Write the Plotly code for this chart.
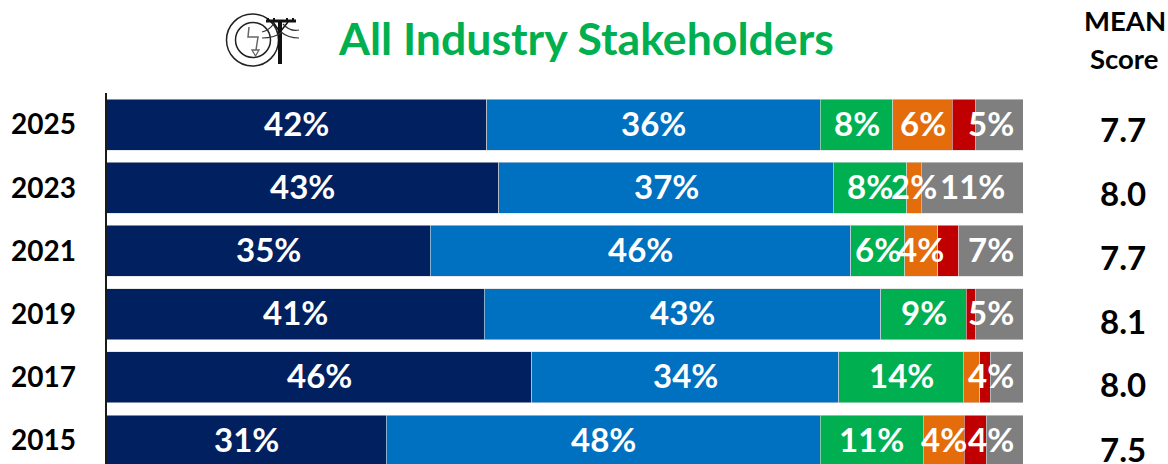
import plotly.graph_objects as go

years = ["2025", "2023", "2021", "2019", "2017", "2015"]
navy = [41.5, 42.8, 35.3, 41.2, 46.4, 30.5]
blue = [36.4, 36.5, 45.9, 43.3, 33.5, 47.4]
green = [7.9, 8.0, 5.9, 9.3, 13.6, 11.2]
orange = [6.5, 1.6, 3.6, 0, 1.8, 4.5]
red = [2.5, 0, 2.3, 1.0, 1.1, 2.4]
gray = [5.2, 11.1, 7.1, 5.2, 3.6, 4.0]
navy_labels = ["42%", "43%", "35%", "41%", "46%", "31%"]
blue_labels = ["36%", "37%", "46%", "43%", "34%", "48%"]
green_labels = ["8%", "8%", "6%", "9%", "14%", "11%"]
orange_labels = ["6%", "2%", "4%", "", "", "4%"]
red_labels = ["", "", "", "", "", ""]
gray_labels = ["5%", "11%", "7%", "5%", "4%", "4%"]
mean_scores = ["7.7", "8.0", "7.7", "8.1", "8.0", "7.5"]

series = [
    (navy, navy_labels, "#002060"), (blue, blue_labels, "#0070C0"),
    (green, green_labels, "#00B050"), (orange, orange_labels, "#E46C0A"),
    (red, red_labels, "#C00000"), (gray, gray_labels, "#7F7F7F"),
]

W, H = 1168, 464
FONT = "Lato, Carlito, Calibri, sans-serif"
X0, X1, TOP, PITCH = 106.5, 1023, 92.9, 63.2
LABEL_MAX = 96.5


def px(x):
    return x / W


def py(y):
    return 1 - y / H


fig = go.Figure()
annotations = []
running = [0.0] * len(years)
for values, labels, color in series:
    fig.add_trace(go.Bar(
        y=years, x=values, orientation="h", showlegend=False,
        marker=dict(color=color, line=dict(color="#D9D9D9", width=0.6)),
    ))
    for i, (v, lab) in enumerate(zip(values, labels)):
        if lab:
            annotations.append(dict(
                x=min(running[i] + v / 2, LABEL_MAX), y=i, xref="x", yref="y",
                xanchor="center", yanchor="middle", yshift=2,
                text=f"<b>{lab}</b>", showarrow=False,
                font=dict(family=FONT, size=33, color="white"),
            ))
        running[i] += v

for i, score in enumerate(mean_scores):
    annotations.append(dict(
        x=px(1122.5), y=i, xref="paper", yref="y", text=f"<b>{score}</b>",
        xanchor="center", yanchor="middle",
        showarrow=False, yshift=-(4 + i * 0.8),
        font=dict(family=FONT, size=33, color="black"),
    ))

annotations += [
    dict(x=px(585.5), y=py(38), xref="paper", yref="paper", showarrow=False,
         xanchor="center", yanchor="middle",
         text="<b>All Industry Stakeholders</b>",
         font=dict(family=FONT, size=44.6, color="#00B050")),
    dict(x=px(1124.5), y=py(21), xref="paper", yref="paper", showarrow=False,
         xanchor="center", yanchor="middle",
         text="<b>MEAN</b>", font=dict(family=FONT, size=27.5, color="black")),
    dict(x=px(1124), y=py(58), xref="paper", yref="paper", showarrow=False,
         xanchor="center", yanchor="middle",
         text="<b>Score</b>", font=dict(family=FONT, size=27.5, color="black")),
]


def circle(cx, cy, r, w=1.5):
    return dict(type="circle", xref="paper", yref="paper", x0=px(cx - r), x1=px(cx + r),
                y0=py(cy + r), y1=py(cy - r), line=dict(color="#222222", width=w))


def path(points, color="#222222", w=1.5, close=False):
    d = "M " + " L ".join(f"{px(x):.5f} {py(y):.5f}" for x, y in points)
    return dict(type="path", xref="paper", yref="paper", path=d + (" Z" if close else ""),
                line=dict(color=color, width=w))


def curve(p0, c, p1, color="#333333", w=1.2):
    d = (f"M {px(p0[0]):.5f} {py(p0[1]):.5f} Q {px(c[0]):.5f} {py(c[1]):.5f} "
         f"{px(p1[0]):.5f} {py(p1[1]):.5f}")
    return dict(type="path", xref="paper", yref="paper", path=d, line=dict(color=color, width=w))


shapes = [
    circle(252.5, 40, 26), circle(253, 40, 17.5),
    path([(249, 27), (248, 37), (258, 37), (256, 50)], "#666666", 1.5),
    path([(252, 50), (259, 50), (255.5, 56)], "#666666", 1.3, True),
    path([(280, 22), (280, 64)], "#111111", 4),
    path([(266, 21), (296, 21)], "#111111", 3),
    path([(268, 18), (268, 21)], "#111111", 2),
    path([(274, 18), (274, 21)], "#111111", 2),
    path([(287, 18), (287, 21)], "#111111", 2),
    path([(293, 18), (293, 21)], "#111111", 2),
    path([(273, 22), (280, 32)], "#111111", 1.5),
    path([(288, 22), (280, 32)], "#111111", 1.5),
    curve((262, 32), (270, 30), (274, 23)),
    curve((262, 38), (275, 38), (282, 32)),
    curve((283, 24), (290, 32), (299, 30)),
    curve((281, 32), (288, 38), (299, 38)),
]

fig.update_layout(
    width=W, height=H, barmode="stack", bargap=0.193,
    margin=dict(l=0, r=0, t=0, b=0), autosize=False,
    paper_bgcolor="white", plot_bgcolor="white",
    annotations=annotations, shapes=shapes,
    xaxis=dict(domain=[px(X0), px(X1)], range=[0, 100], visible=False, fixedrange=True),
    yaxis=dict(
        type="category", categoryorder="array", categoryarray=years,
        domain=[0, py(TOP)], range=[(H - TOP) / PITCH - 0.5, -0.5],
        showline=True, linecolor="#1a1a1a", linewidth=2, ticks="", showgrid=False,
        ticklabelstandoff=23, tickfont=dict(family=FONT, size=28, color="black", weight="bold"),
    ),
)

fig.write_html("out.html", config={"displayModeBar": False},
               post_script="document.body.style.margin='0';")
